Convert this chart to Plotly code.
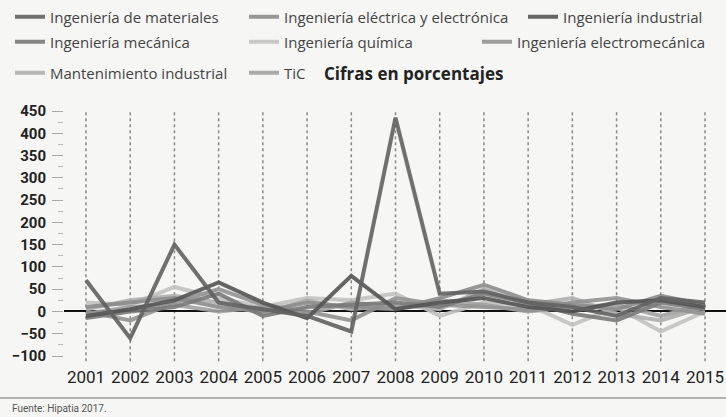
import plotly.graph_objects as go

years = list(range(2001, 2016))

series_names = [
    "Ingeniería de materiales",
    "Ingeniería eléctrica y electrónica",
    "Ingeniería industrial",
    "Ingeniería mecánica",
    "Ingeniería química",
    "Ingeniería electromecánica",
    "Mantenimiento industrial",
    "TiC",
]

materiales = [70, -60, 150, 20, 5, -10, -45, 435, 40, 45, 20, 10, -10, 30, 20]
electrica = [10, 20, 30, 10, 0, 20, 10, 5, 30, 60, 25, 15, 5, 35, 15]
industrial = [-10, 5, 25, 65, 20, -15, 80, 5, 20, 30, 10, 0, 20, 25, 10]
mecanica = [-15, 0, 10, 40, -10, 10, 15, 20, 10, 40, 20, -5, -20, 20, 5]
quimica = [20, 15, 55, 30, 10, 30, 25, 40, -10, 20, 15, -30, 10, -45, 0]
electromecanica = [0, -20, 20, 50, 15, 0, -20, 30, 15, 10, 5, 20, 30, 10, -5]
mantenimiento = [5, 25, 35, 20, -5, 25, 5, 15, 5, 50, 15, 30, -5, -20, 10]
tic = [-5, 10, 15, 0, 10, -5, 20, 10, 25, 15, 0, 10, 15, -10, 15]

y_tickvals = [-100, -50, 0, 50, 100, 150, 200, 250, 300, 350, 400, 450]

values = [materiales, electrica, industrial, mecanica, quimica, electromecanica, mantenimiento, tic]
colors = ["#626262", "#8c8c8c", "#555555", "#7a7a7a", "#c2c2c2", "#939393", "#b0b0b0", "#a2a2a2"]
order = [4, 6, 7, 5, 1, 3, 2, 0]

W, H = 726, 417
L, R, T, B = 64, 0, 105, 52
plot_w = W - L - R
plot_h = H - T - B


def px_x(p):
    return (p - L) / plot_w


def px_y(p):
    return (H - B - p) / plot_h


legend_pos = [
    (10, 17), (244, 17), (523, 17),
    (10, 42), (244, 42), (477, 42),
    (10, 73), (244, 73),
]

fig = go.Figure()
for i in order:
    lg = "legend" if i == 0 else f"legend{i+1}"
    fig.add_trace(go.Scatter(
        x=years, y=values[i], mode="lines", name=series_names[i],
        line=dict(color=colors[i], width=4),
        legend=lg, opacity=0.9,
    ))

layout_legends = {}
for i, (lx, ly) in enumerate(legend_pos):
    key = "legend" if i == 0 else f"legend{i+1}"
    layout_legends[key] = dict(
        x=px_x(lx), y=px_y(ly), xanchor="left", yanchor="middle",
        bgcolor="rgba(0,0,0,0)", borderwidth=0, itemwidth=30,
        font=dict(family="Open Sans", size=15, color="#444444"),
    )

shapes = []
for yr in years:
    shapes.append(dict(type="line", xref="x", yref="y", x0=yr, x1=yr, y0=-112, y1=452,
                       line=dict(color="#888888", width=1.5, dash="dot"), layer="below"))
shapes.append(dict(type="line", xref="paper", yref="paper", x0=px_x(0), x1=1,
                   y0=px_y(398), y1=px_y(398), line=dict(color="#9a9a9a", width=1.5)))

annotations = [
    dict(text="<b>Cifras en porcentajes</b>", xref="paper", yref="paper",
         x=px_x(322), y=px_y(73), xanchor="left", yanchor="middle", showarrow=False,
         font=dict(family="Open Sans", size=17, color="#222222")),
    dict(text="Fuente: Hipatia 2017.", xref="paper", yref="paper",
         x=px_x(10), y=px_y(408), xanchor="left", yanchor="middle", showarrow=False,
         font=dict(family="Roboto", size=10, color="#555555")),
]

xmin = 2001 - (86 - L) / 44.21
xmax = 2015 + 21 / 44.21
ppu = (356 - 111) / 550
ymax = 450 + (111 - T) / ppu
ymin = -100 - ((H - B) - 356) / ppu

fig.update_layout(
    width=W, height=H,
    margin=dict(l=L, r=R, t=T, b=B, autoexpand=False),
    paper_bgcolor="#f6f6f4", plot_bgcolor="#f6f6f4",
    showlegend=True,
    shapes=shapes, annotations=annotations,
    xaxis=dict(range=[xmin, xmax], tickvals=years, showgrid=False, zeroline=False,
               showline=False, ticks="", automargin=False,
               tickfont=dict(family="Roboto", size=17, color="#222222")),
    yaxis=dict(range=[ymin, ymax], tickvals=y_tickvals, showgrid=False,
               zeroline=True, zerolinecolor="#111111", zerolinewidth=2,
               showline=False, ticks="outside", ticklen=11, tickcolor="#aaaaaa",
               tickwidth=1, ticklabelstandoff=3, automargin=False,
               minor=dict(ticks="outside", ticklen=5, dtick=25, tick0=0,
                          tickcolor="#bbbbbb", showgrid=False),
               tickfont=dict(family="Roboto", size=15, color="#222222", weight="bold")),
    **layout_legends,
)

fig.write_html("out.html", config={"displayModeBar": False},
               post_script="document.body.style.margin='0px';document.body.style.background='#f6f6f4';")
